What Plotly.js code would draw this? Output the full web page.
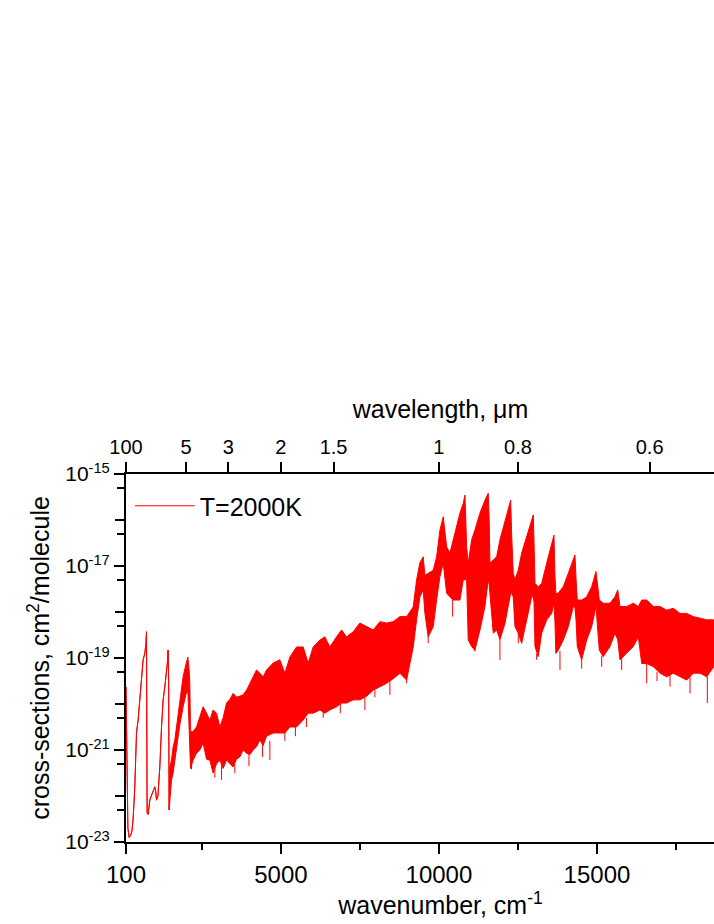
<!DOCTYPE html>
<html><head><meta charset="utf-8">
<script src="https://cdn.plot.ly/plotly-3.0.1.min.js"></script>
<style>html,body{margin:0;padding:0;overflow:hidden;background:#fff}#chart{width:790px;height:924px}</style>
</head><body><div id="chart"></div>
<script>
// wavenumber samples (cm^-1) with upper / lower envelope of log10(cross-section)
const wavenumber = [100,130,160,200,250,290,325,379,432,483,537,590,641,695,730,749,752,768,800,853,900,958,1012,1040,1065,1110,1170,1224,1274,1328,1382,1410,1432,1450,1464,
1486,1540,1591,1645,1698,1749,1803,1907,1993,2056,2097,2119,2141,2224,2331,2436,2540,2648,2752,2857,2964,3069,3173,3281,3385,3490,3597,3702,3806,3914,4018,4123,4230,4335,4439,4547,4756,4968,5126,5284,5496,5705,5863,6022,6234,6392,6550,6762,6920,7079,7288,7500,7712,7921,8133,8345,8554,8766,8978,9187,9294,9399,9503,9557,9661,9820,9927,10032,10136,10190,10244,10348,10453,10560,10665,10769,10823,10850,10877,10927,11035,11139,11298,11456,11560,11590,11614,11719,11826,11931,12089,12193,12270,12300,12352,12406,12510,12618,12776,12934,12985,13010,13039,13143,13251,13409,13567,13640,13671,13700,13776,13934,14093,14251,14304,14340,14377,14516,14675,14833,14969,15000,15074,15200,15412,15570,15656,15729,15941,16150,16308,16416,16574,16783,16995,17207,17416,17628,17840,18049,18261,18473,18682,19000,19500,20000];
const logSigmaUpper = [-19.63,-21.5,-22.7,-22.9,-22.85,-22.75,-22.5,-21.8,-20.63,-20.35,-19.91,-19.41,-19.04,-18.9,-18.7,-18.43,-18.9,-22.37,-22.4,-22.09,-22.0,-21.91,-21.8,-21.9,-22.09,-22.0,-21.37,-20.5,-19.91,-19.63,-19.33,-19.1,-18.83,-19.5,-22.3,
-21.37,-21.22,-20.93,-20.78,-20.5,-20.35,-19.95,-19.4,-19.15,-18.98,-19.26,-19.55,-20.6,-20.6,-20.5,-20.28,-20.06,-20.2,-20.35,-20.13,-20.2,-20.5,-20.3,-19.98,-19.9,-19.77,-19.85,-19.83,-19.8,-19.7,-19.55,-19.41,-19.26,-19.33,-19.41,-19.26,-19.11,-19.04,-19.33,-18.98,-18.76,-18.76,-19.11,-18.76,-18.61,-18.54,-18.76,-18.54,-18.39,-18.54,-18.43,-18.24,-18.32,-18.39,-18.21,-18.24,-18.21,-18.1,-18.1,-17.89,-17.3,-16.93,-16.8,-17.2,-17.16,-17.09,-16.8,-16.22,-15.93,-16.3,-16.58,-16.72,-16.43,-16.15,-15.85,-15.64,-15.46,-16.0,-16.58,-16.94,-16.43,-16.22,-15.85,-15.57,-15.42,-16.0,-16.94,-16.87,-16.8,-16.43,-16.0,-15.78,-15.57,-16.3,-17.16,-17.3,-17.09,-16.72,-16.36,-16.0,-15.89,-16.5,-17.38,-17.45,-17.38,-16.94,-16.51,-16.33,-17.2,-17.6,-17.59,-17.45,-17.16,-16.87,-16.76,-17.3,-17.74,-17.74,-17.67,-17.45,-17.12,-17.3,-17.74,-17.81,-17.81,-17.67,-17.52,-17.88,-17.88,-17.81,-17.88,-17.74,-17.74,-17.88,-17.88,-17.96,-17.92,-18.03,-18.03,-18.1,-18.14,-18.17,-18.17,-18.2,-18.25,-18.3];
const logSigmaLower = [-19.63,-21.5,-22.7,-22.9,-22.85,-22.75,-22.5,-21.8,-20.63,-20.35,-19.91,-19.41,-19.04,-18.9,-18.7,-18.43,-18.9,-22.37,-22.4,-22.09,-22.0,-21.91,-21.8,-21.9,-22.09,-22.0,-21.37,-20.5,-19.91,-19.63,-19.33,-19.1,-18.83,-19.5,-22.3,
-22.09,-21.65,-21.5,-21.22,-20.93,-20.78,-20.45,-20.06,-19.8,-19.7,-20.5,-20.9,-21.4,-21.22,-21.07,-21.0,-20.85,-21.2,-21.22,-21.5,-21.3,-21.22,-21.4,-21.22,-21.3,-21.37,-21.2,-21.15,-21.0,-21.07,-21.1,-21.0,-20.93,-20.78,-20.9,-20.7,-20.63,-20.63,-20.63,-20.5,-20.5,-20.35,-20.2,-20.2,-20.13,-20.2,-20.13,-20.06,-19.98,-19.98,-19.91,-19.91,-19.83,-19.7,-19.62,-19.55,-19.45,-19.33,-19.48,-18.76,-18.17,-17.67,-17.52,-18.03,-18.54,-18.32,-17.74,-17.23,-16.94,-17.3,-17.59,-17.67,-17.74,-17.74,-17.74,-17.3,-17.3,-17.3,-17.3,-18.61,-18.75,-18.83,-18.39,-17.88,-17.3,-17.4,-17.59,-18.46,-18.39,-18.6,-18.25,-17.88,-17.59,-17.6,-17.67,-18.32,-18.46,-18.68,-18.17,-17.67,-17.67,-17.8,-18.75,-18.97,-18.46,-18.17,-18.03,-17.8,-18.2,-18.9,-18.83,-18.61,-18.32,-17.88,-17.9,-18.2,-18.75,-19.04,-18.61,-18.32,-17.88,-18.2,-18.83,-18.97,-18.75,-18.46,-18.6,-19.04,-18.9,-18.75,-18.54,-19.12,-19.12,-19.19,-19.33,-19.41,-19.33,-19.41,-19.48,-19.33,-19.33,-19.41,-19.2,-19.3,-19.35,-19.4];
// deep individual lines below the band
const spikeWavenumber = [2173,2911,3123,3543,3990,4420,4651,5126,5460,5813,6340,6880,7658,7975,8449,8978,9661,10434,11139,11931,12510,13092,13830,14516,15150,15782,16574,16900,17311,17944,18492];
const spikeTopLog = [-21.3,-21.4,-21.3,-21.3,-21.05,-20.85,-20.8,-20.6,-20.45,-20.3,-20.15,-20.0,-19.85,-19.7,-19.5,-19.45,-18.5,-17.74,-18.8,-18.6,-18.46,-18.9,-18.85,-19.0,-18.95,-19.0,-19.1,-19.3,-19.37,-19.4,-19.4];
const spikeBottomLog = [-21.42,-21.6,-21.65,-21.5,-21.35,-21.15,-21.22,-20.8,-20.7,-20.5,-20.3,-20.2,-20.13,-19.85,-19.8,-19.55,-18.68,-18.1,-18.86,-19.04,-18.68,-19.04,-19.26,-19.23,-19.19,-19.26,-19.55,-19.5,-19.62,-19.77,-19.98];

const bottomTickValues = [100, 5000, 10000, 15000];
const bottomTickLabels = ['100', '5000', '10000', '15000'];
const bottomMinorTicks = [2500, 7500, 12500, 17500];
const topWavelengths = [100, 5, 3, 2, 1.5, 1, 0.8, 0.6];
const topTickLabels = ['100', '5', '3', '2', '1.5', '1', '0.8', '0.6'];
const labelledExponents = [-23, -21, -19, -17, -15];
const unlabelledExponents = [-22, -20, -18, -16];
const halfDecadeExponents = [-23, -22, -21, -20, -19, -18, -17, -16];

const FONT = 'Liberation Sans, Arial, sans-serif';
const toVal = a => a.map(v => Math.pow(10, v));

const spikeX = [], spikeY = [];
spikeWavenumber.forEach((w, i) => {
  spikeX.push(w, w, null);
  spikeY.push(Math.pow(10, spikeTopLog[i]), Math.pow(10, spikeBottomLog[i]), null);
});

const traces = [
  {x: wavenumber, y: toVal(logSigmaLower), type: 'scatter', mode: 'lines', name: 'T=2000K',
   line: {color: 'red', width: 1}, hoverinfo: 'skip'},
  {x: wavenumber, y: toVal(logSigmaUpper), type: 'scatter', mode: 'lines', showlegend: false,
   line: {color: 'red', width: 1}, fill: 'tonexty', fillcolor: 'red', hoverinfo: 'skip'},
  {x: spikeX, y: spikeY, type: 'scatter', mode: 'lines', showlegend: false, connectgaps: false,
   line: {color: 'red', width: 1}, hoverinfo: 'skip'},
  {x: topWavelengths.map(l => 1e4 / l), y: topWavelengths.map(() => null), xaxis: 'x2', type: 'scatter',
   mode: 'lines', showlegend: false, hoverinfo: 'skip'},
  {x: unlabelledExponents.map(() => null), y: toVal(unlabelledExponents), yaxis: 'y2', type: 'scatter',
   mode: 'lines', showlegend: false, hoverinfo: 'skip'}
];

const tickStyle = {ticks: 'outside', ticklen: 10, tickwidth: 2, tickcolor: '#000', showgrid: false, zeroline: false};

const layout = {
  width: 790, height: 924,
  margin: {l: 126, r: 35, t: 474, b: 82},
  paper_bgcolor: '#fff', plot_bgcolor: '#fff',
  font: {family: FONT, color: '#000'},
  showlegend: true,
  legend: {x: 0.006, y: 0.913, xanchor: 'left', yanchor: 'middle', font: {size: 25, family: FONT},
           bgcolor: 'rgba(0,0,0,0)', itemwidth: 60},
  xaxis: Object.assign({
    type: 'linear', range: [100, 20000], autorange: false,
    tickmode: 'array', tickvals: bottomTickValues, ticktext: bottomTickLabels,
    showline: true, linewidth: 2, linecolor: '#000',
    tickfont: {size: 24, family: FONT},
    minor: {tickmode: 'array', tickvals: bottomMinorTicks, ticks: 'outside', ticklen: 6, tickwidth: 2, tickcolor: '#000', showgrid: false},
    title: {text: 'wavenumber, cm<sup>-1</sup>', font: {size: 25, family: FONT}, standoff: 10}
  }, tickStyle),
  xaxis2: Object.assign({
    type: 'linear', overlaying: 'x', side: 'top', anchor: 'y', range: [100, 20000], autorange: false,
    tickmode: 'array', tickvals: topWavelengths.map(l => 1e4 / l), ticktext: topTickLabels,
    showline: true, linewidth: 2, linecolor: '#000',
    tickfont: {size: 20, family: FONT},
    title: {text: 'wavelength, μm', font: {size: 25, family: FONT}, standoff: 10}
  }, tickStyle),
  yaxis: Object.assign({
    type: 'log', range: [-23, -15], autorange: false,
    tickmode: 'array', tickvals: toVal(labelledExponents),
    ticktext: labelledExponents.map(e => '10<sup>' + e + '</sup>'),
    showline: true, linewidth: 2, linecolor: '#000', mirror: true,
    tickfont: {size: 21, family: FONT},
    minor: {tickmode: 'array', tickvals: halfDecadeExponents.map(e => 5 * Math.pow(10, e)), ticks: 'outside', ticklen: 7, tickwidth: 2, tickcolor: '#000', showgrid: false},
    title: {text: 'cross-sections, cm<sup>2</sup>/molecule', font: {size: 25, family: FONT}, standoff: 8}
  }, tickStyle),
  yaxis2: Object.assign({
    type: 'log', range: [-23, -15], autorange: false, overlaying: 'y', side: 'left', anchor: 'x',
    tickmode: 'array', tickvals: toVal(unlabelledExponents), showticklabels: false, showline: false
  }, tickStyle)
};

Plotly.newPlot('chart', traces, layout, {staticPlot: true, displayModeBar: false});
</script></body></html>
